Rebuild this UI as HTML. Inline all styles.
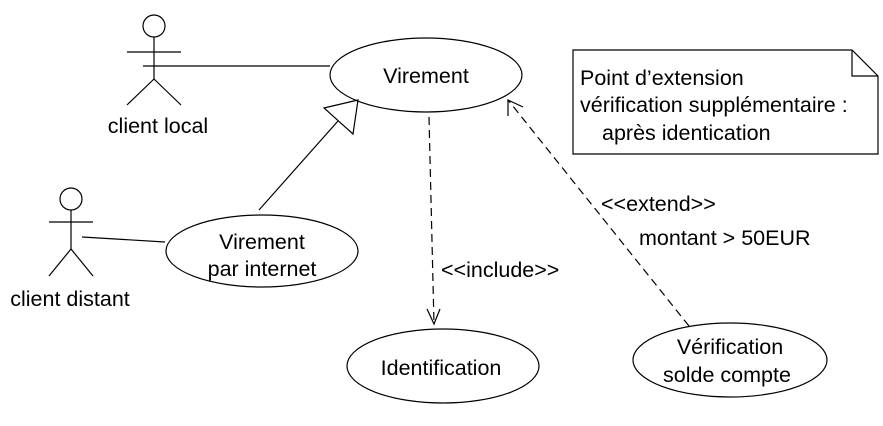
<!DOCTYPE html>
<html><head><meta charset="utf-8"><style>
html,body{margin:0;padding:0;background:#fff;}
svg{display:block;}
text{font-family:"Liberation Sans",sans-serif;font-size:21.5px;fill:#000;}
</style></head><body>
<svg width="883" height="426" viewBox="0 0 883 426" xmlns="http://www.w3.org/2000/svg">
<g stroke="#000" stroke-width="1.2" fill="none">
<circle cx="154" cy="26" r="11"/>
<line x1="127" y1="52" x2="181" y2="52"/>
<line x1="154" y1="37" x2="154" y2="79"/>
<line x1="154" y1="79" x2="127" y2="105"/>
<line x1="154" y1="79" x2="181" y2="105"/>
<line x1="143" y1="66" x2="330" y2="66"/>
<circle cx="71" cy="199" r="11"/>
<line x1="49" y1="222" x2="93" y2="222"/>
<line x1="71" y1="210" x2="71" y2="249"/>
<line x1="71" y1="249" x2="49" y2="276"/>
<line x1="71" y1="249" x2="93" y2="276"/>
<line x1="82" y1="237" x2="165" y2="242"/>
<ellipse cx="426" cy="75" rx="96" ry="37"/>
<ellipse cx="262" cy="251" rx="96" ry="36"/>
<ellipse cx="443" cy="366" rx="96" ry="37"/>
<ellipse cx="730" cy="360" rx="97" ry="37"/>
<line x1="259" y1="210" x2="338" y2="121"/>
<polygon points="358,100 324,108 353,134"/>
<line x1="429" y1="117" x2="434" y2="324" stroke-dasharray="8,5"/>
<polyline points="427,309 434,324 440,309"/>
<line x1="689" y1="326" x2="508" y2="100" stroke-dasharray="8,5"/>
<polyline points="508,116 508,100 523,107"/>
<polygon points="573,50 852,50 878,76 878,154 573,154"/>
<polyline points="852,50 852,76 878,76"/>
</g>
<text x="158" y="133" text-anchor="middle">client local</text>
<text x="70" y="306" text-anchor="middle">client distant</text>
<text x="426" y="83" text-anchor="middle">Virement</text>
<text x="262" y="249" text-anchor="middle">Virement</text>
<text x="262" y="276" text-anchor="middle">par internet</text>
<text x="441" y="375" text-anchor="middle">Identification</text>
<text x="730" y="354" text-anchor="middle">Vérification</text>
<text x="727" y="382" text-anchor="middle">solde compte</text>
<text x="441" y="277">&lt;&lt;include&gt;&gt;</text>
<text x="601" y="211">&lt;&lt;extend&gt;&gt;</text>
<text x="639" y="245">montant &gt; 50EUR</text>
<text x="580" y="85">Point d’extension</text>
<text x="580" y="112">vérification supplémentaire :</text>
<text x="602" y="140">après identication</text>
</svg>
</body></html>
